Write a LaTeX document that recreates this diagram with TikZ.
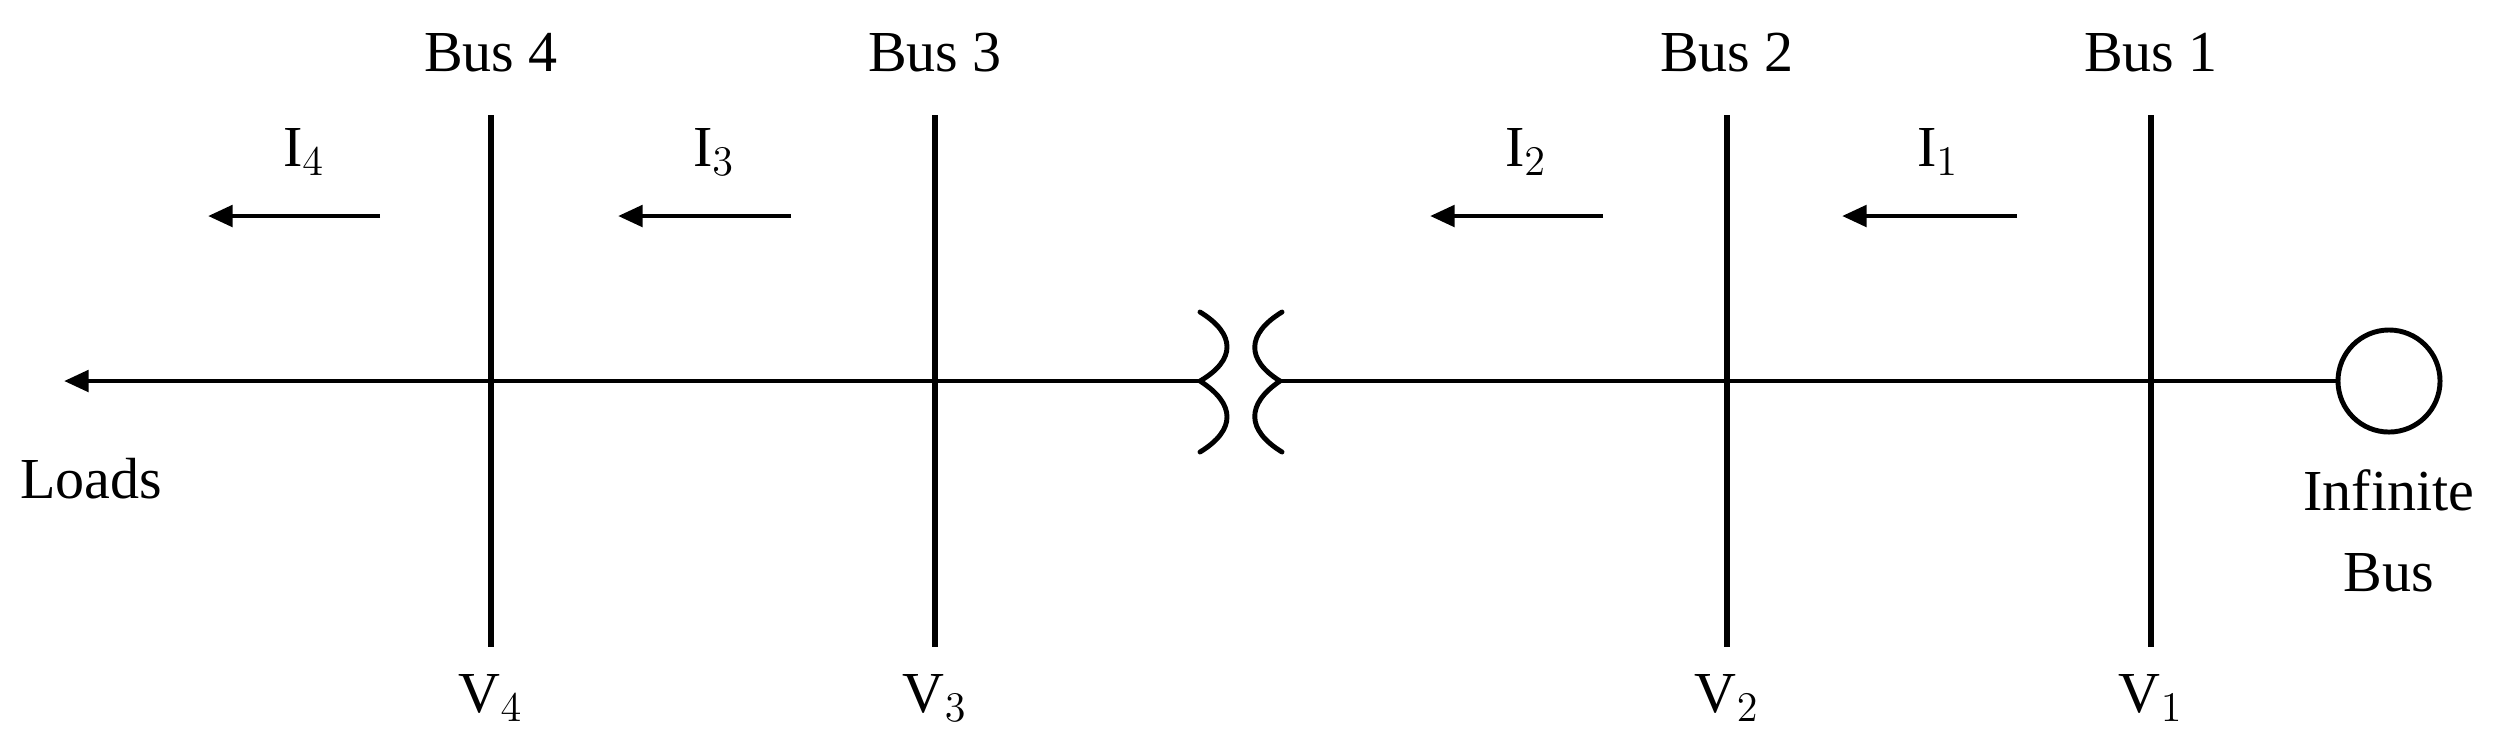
\documentclass[tikz,border=0pt]{standalone}
\usepackage{fontspec}
\setmainfont{Liberation Serif}
\usetikzlibrary{arrows.meta}
\begin{document}
\begin{tikzpicture}[x=0.01cm,y=-0.01cm,line width=1.4pt,
  lbl/.style={font=\fontsize{16.5}{19}\selectfont,inner sep=0pt},
  cur/.style={-{Triangle[length=7pt,width=6pt]}},
  bus/.style={line width=1.5pt}]
\useasboundingbox (0,0) rectangle (2506,753);
\coordinate (tip) at (64,381);
\coordinate (t1) at (1200,381);
\coordinate (t2) at (1280,381);
\node[draw,circle,minimum size=102\pgflinewidth*0+1.02cm,inner sep=0pt] (inf) at (2389,381) {};
\foreach \n/\x in {4/491,3/935,2/1727,1/2151}{
  \coordinate (bt\n) at (\x,115);
  \coordinate (bb\n) at (\x,647);
  \draw[bus] (bt\n) -- (bb\n);
  \node[lbl] (bl\n) at (\x,53) {Bus \n};
  \node[lbl] (v\n) at (\x,698) {V$_{\n}$};
}
\draw[cur] (t1) -- (tip);
\draw (inf) -- (t2);
\draw[line cap=round] (1200,312) .. controls (1236,334) and (1236,360) .. (t1)
  .. controls (1236,404) and (1236,430) .. (1200,452);
\draw[line cap=round] (1282,312) .. controls (1246,334) and (1246,360) .. (t2)
  .. controls (1246,404) and (1246,430) .. (1282,452);
\foreach \n/\lx/\a/\b in {4/304/380/208,3/714/791/618,2/1526/1603/1430,1/1938/2017/1842}{
  \node[lbl] (i\n) at (\lx,152) {I$_{\n}$};
  \coordinate (as\n) at (\a,216);
  \coordinate (ae\n) at (\b,216);
  \draw[cur] (as\n) -- (ae\n);
}
\node[lbl] (loads) at (91,479) {Loads};
\node[lbl,align=center] (ib) at (2389,531) {Infinite\\[4pt]Bus};
\end{tikzpicture}
\end{document}
